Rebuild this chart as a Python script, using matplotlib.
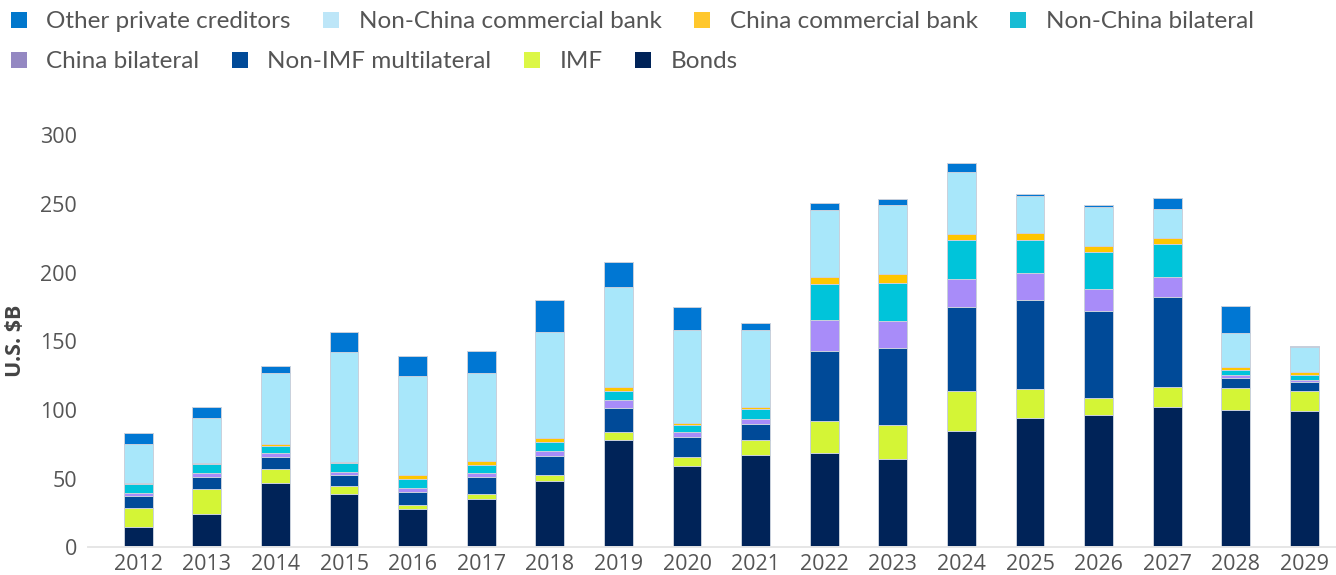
import numpy as np
import matplotlib
matplotlib.use('Agg')
import matplotlib.pyplot as plt
from matplotlib.patches import Patch

# External debt service by creditor type, U.S. $ billions
years = ['2012', '2013', '2014', '2015', '2016', '2017', '2018', '2019', '2020',
         '2021', '2022', '2023', '2024', '2025', '2026', '2027', '2028', '2029']
bonds = [15, 24, 47, 39, 28, 35, 48, 78, 59, 67, 69, 64, 85, 94, 96, 102, 100, 99]
imf = [14, 18.5, 10, 5.5, 2.5, 4, 5, 6, 6.5, 11, 23, 25, 29, 21, 13, 15, 16, 14.5]
non_imf = [8.5, 9, 8.5, 8, 9.5, 12, 13.5, 17.5, 14.5, 12, 51, 56, 61, 65, 63, 65, 7.5, 7]
china_bil = [2, 2.5, 3.5, 2.5, 3.5, 3.5, 4, 5.5, 4, 3.5, 22.5, 19.5, 20.5, 19.5, 16, 15, 2, 1.5]
non_china_bil = [6.5, 6.5, 4.5, 6.5, 6.5, 5.5, 6.5, 7, 5, 7, 26.5, 28, 28, 24.5, 27, 24, 3.5, 3.5]
china_cb = [1, 1, 1.5, 1, 3, 3, 2.5, 3, 1.5, 1.5, 5, 6.5, 4.5, 4.5, 4, 4, 2.5, 2]
non_china_cb = [28.5, 33, 52, 80, 71.5, 64, 77, 72.5, 68, 56, 48.5, 50, 45.5, 27.5, 29, 21.5, 24.5, 18.5]
other = [8, 8, 5, 14, 15, 16, 23.5, 18, 16.5, 5, 5, 4.5, 6.5, 1.5, 1, 7.5, 19.5, 0.5]

# name, values, bar colour, legend swatch colour
series = [
    ('Bonds', bonds, '#002358', '#002358'),
    ('IMF', imf, '#d4f536', '#dcf745'),
    ('Non-IMF multilateral', non_imf, '#004a98', '#004a98'),
    ('China bilateral', china_bil, '#a88cf9', '#9488c2'),
    ('Non-China bilateral', non_china_bil, '#00c4da', '#18bcd4'),
    ('China commercial bank', china_cb, '#ffc600', '#ffc72c'),
    ('Non-China commercial bank', non_china_cb, '#a8e7fa', '#bde6f8'),
    ('Other private creditors', other, '#0077d3', '#0077cc'),
]

plt.rcParams['font.family'] = ['Open Sans', 'DejaVu Sans']

fig = plt.figure(figsize=(13.36, 5.75), dpi=100)
ax = fig.add_axes([0.066, 0.048, 0.934, 0.717])

x = np.arange(len(years))
bottom = np.zeros(len(years))
swatch = {}
for name, vals, col, lcol in series:
    vals = np.array(vals, dtype=float)
    ax.bar(x, vals, 0.42, bottom=bottom, color=col, edgecolor='#c9d0dc', linewidth=0.7)
    bottom += vals
    swatch[name] = lcol

ax.set_xlim(-0.73, 17.46)
ax.set_ylim(0, 300)
ax.set_yticks([0, 50, 100, 150, 200, 250, 300])
ax.set_xticks(x)
ax.set_xticklabels(years)
ax.tick_params(axis='both', length=0, labelsize=15.5, colors='#555555')
ax.tick_params(axis='x', pad=5)
ax.tick_params(axis='y', pad=8)
for s in ['top', 'right', 'left']:
    ax.spines[s].set_visible(False)
ax.spines['bottom'].set_color('#e6e6e6')
ax.spines['bottom'].set_linewidth(1.4)
ax.set_ylabel('U.S. $B', fontsize=15.5, fontweight='bold', color='#444444', labelpad=10)

def legend_row(names, y):
    handles = [Patch(facecolor=swatch[n], edgecolor='none') for n in names]
    leg = fig.legend(handles, names, loc='center left', bbox_to_anchor=(0.0, y),
                     ncol=len(names), frameon=False,
                     prop={'family': ['Lato', 'DejaVu Sans'], 'size': 17.5},
                     handlelength=0.65, handleheight=0.65, handletextpad=0.8,
                     columnspacing=1.35, borderaxespad=0, borderpad=0.45)
    for t in leg.get_texts():
        t.set_color('#555555')
    return leg

legend_row(['Other private creditors', 'Non-China commercial bank',
            'China commercial bank', 'Non-China bilateral'], 1 - 22 / 575)
legend_row(['China bilateral', 'Non-IMF multilateral', 'IMF', 'Bonds'], 1 - 62 / 575)

fig.savefig('out.png', dpi=100)
